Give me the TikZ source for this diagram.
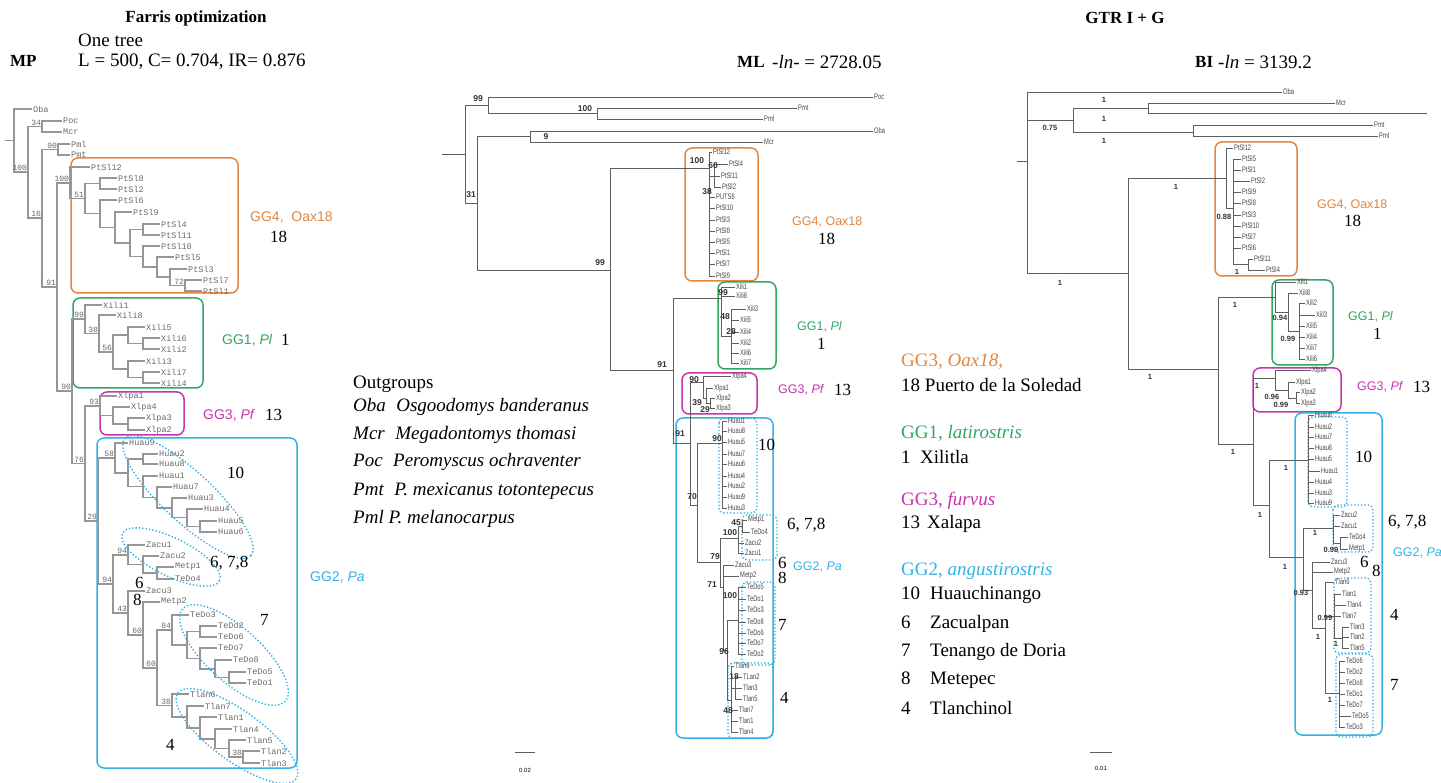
\documentclass[tikz,border=0pt]{standalone}
\usepackage{fontspec}
\setmainfont{Liberation Serif}
\setsansfont{Liberation Sans}
\setmonofont{Liberation Mono}
\newfontfamily\narrowsf[FakeStretch=0.72]{Liberation Sans}
\usepackage{xcolor}
\usepackage{tikz}
\definecolor{ggorange}{RGB}{226,134,64}
\definecolor{gggreen}{RGB}{48,168,100}
\definecolor{ggmagenta}{RGB}{200,52,172}
\definecolor{ggcyan}{RGB}{52,178,228}
\definecolor{mpgrey}{RGB}{150,150,150}
\definecolor{mptext}{RGB}{105,105,105}
\definecolor{treegrey}{RGB}{95,95,95}
\definecolor{treetext}{RGB}{70,70,70}

\begin{document}
\begin{tikzpicture}[
x=1pt,
y=-1pt,
mpline/.style={draw=mpgrey,line width=1.1pt},
treeline/.style={draw=treegrey,line width=0.9pt},
mpleaf/.style={anchor=west,inner sep=1pt,text=mptext,font=\ttfamily\fontsize{8.5}{8.5}\selectfont},
treeleaf/.style={anchor=west,inner sep=1pt,text=treetext,font=\narrowsf\fontsize{8}{8}\selectfont},
mpsup/.style={anchor=south east,inner sep=0.8pt,text=mptext,font=\ttfamily\fontsize{8}{8}\selectfont},
mlsup/.style={inner sep=0pt,text=black!80,font=\sffamily\bfseries\fontsize{8.5}{8.5}\selectfont},
bisup/.style={inner sep=0pt,text=black!80,font=\sffamily\bfseries\fontsize{7.5}{7.5}\selectfont},
cladebox/.style={rounded corners=7pt,line width=1.5pt},
popbox/.style={draw=ggcyan,dotted,line width=1.4pt,rounded corners=5pt},
ggtag/.style={anchor=west,inner sep=0pt,font=\sffamily\fontsize{14}{14}\selectfont},
ggtagsm/.style={anchor=west,inner sep=0pt,font=\sffamily\fontsize{12.5}{12.5}\selectfont},
numtag/.style={anchor=west,inner sep=0pt,font=\fontsize{17}{17}\selectfont},
hdr/.style={anchor=west,inner sep=0pt,font=\fontsize{19}{19}\selectfont},
hdrbold/.style={inner sep=0pt,font=\bfseries\fontsize{17}{17}\selectfont},
legline/.style={anchor=west,inner sep=0pt,font=\fontsize{19}{19}\selectfont},
scaletag/.style={inner sep=0pt,font=\sffamily\fontsize{6}{6}\selectfont}
]
\fill[white] (0,0) rectangle (1441,783);
\useasboundingbox (0,0) rectangle (1441,783);

\node[hdrbold] (farris) at (196,18) {Farris optimization};
\node[hdrbold,anchor=west] (mptitle) at (10,61) {MP};
\node[hdr] (onetree) at (78,40) {One tree};
\node[hdr] (mpstats) at (78,62) {L = 500, C= 0.704, IR= 0.876};
\node[hdrbold,anchor=west] (mltitle) at (737,62) {ML};
\node[hdr] (mlstats) at (772,62) {-\textit{ln}- = 2728.05};
\node[hdrbold] (gtr) at (1125,18) {GTR I + G};
\node[hdrbold,anchor=west] (bititle) at (1195,62) {BI};
\node[hdr] (bistats) at (1218,62) {-\textit{ln} = 3139.2};

\draw[cladebox,draw=ggorange] (71,158) rectangle (238,293);
\draw[cladebox,draw=gggreen] (73,298) rectangle (203,388);
\draw[cladebox,draw=ggmagenta] (100,392) rectangle (184,435);
\draw[cladebox,draw=ggcyan] (97,438) rectangle (297,768);

\node[mpleaf] (mpOba) at (32,109) {Oba};
\node[mpleaf] (mpPoc) at (62,121) {Poc};
\node[mpleaf] (mpMcr) at (62,132) {Mcr};
\node[mpleaf] (mpPml) at (70,144) {Pml};
\node[mpleaf] (mpPmt) at (70,155) {Pmt};
\node[mpleaf] (mpPtSl12) at (90,167) {PtSl12};
\node[mpleaf] (mpPtSl8) at (117,178) {PtSl8};
\node[mpleaf] (mpPtSl2) at (117,189) {PtSl2};
\node[mpleaf] (mpPtSl6) at (117,200) {PtSl6};
\node[mpleaf] (mpPtSl9) at (132,212) {PtSl9};
\node[mpleaf] (mpPtSl4) at (160,224) {PtSl4};
\node[mpleaf] (mpPtSl11) at (160,235) {PtSl11};
\node[mpleaf] (mpPtSl10) at (160,246) {PtSl10};
\node[mpleaf] (mpPtSl5) at (174,257) {PtSl5};
\node[mpleaf] (mpPtSl3) at (187,269) {PtSl3};
\node[mpleaf] (mpPtSl7) at (202,280) {PtSl7};
\node[mpleaf] (mpPtSl1) at (202,291) {PtSl1};
\node[mpleaf] (mpXili1) at (102,305) {Xili1};
\node[mpleaf] (mpXili8) at (116,315) {Xili8};
\node[mpleaf] (mpXili5) at (145,327) {Xili5};
\node[mpleaf] (mpXili6) at (160,338) {Xili6};
\node[mpleaf] (mpXili2) at (160,349) {Xili2};
\node[mpleaf] (mpXili3) at (145,361) {Xili3};
\node[mpleaf] (mpXili7) at (160,372) {Xili7};
\node[mpleaf] (mpXili4) at (160,383) {Xili4};
\node[mpleaf] (mpXlpa1) at (117,396) {Xlpa1};
\node[mpleaf] (mpXlpa4) at (130,407) {Xlpa4};
\node[mpleaf] (mpXlpa3) at (145,418) {Xlpa3};
\node[mpleaf] (mpXlpa2) at (145,430) {Xlpa2};
\node[mpleaf] (mpHuau9) at (128,443) {Huau9};
\node[mpleaf] (mpHuau2) at (158,454) {Huau2};
\node[mpleaf] (mpHuau8) at (158,464) {Huau8};
\node[mpleaf] (mpHuau1) at (158,476) {Huau1};
\node[mpleaf] (mpHuau7) at (172,487) {Huau7};
\node[mpleaf] (mpHuau3) at (187,498) {Huau3};
\node[mpleaf] (mpHuau4) at (203,509) {Huau4};
\node[mpleaf] (mpHuau5) at (217,521) {Huau5};
\node[mpleaf] (mpHuau6) at (217,532) {Huau6};
\node[mpleaf] (mpZacu1) at (145,545) {Zacu1};
\node[mpleaf] (mpZacu2) at (159,556) {Zacu2};
\node[mpleaf] (mpMetp1) at (174,567) {Metp1};
\node[mpleaf] (mpTeDo4) at (174,579) {TeDo4};
\node[mpleaf] (mpZacu3) at (145,591) {Zacu3};
\node[mpleaf] (mpMetp2) at (160,602) {Metp2};
\node[mpleaf] (mpTeDo3) at (189,615) {TeDo3};
\node[mpleaf] (mpTeDo2) at (217,626) {TeDo2};
\node[mpleaf] (mpTeDo6) at (217,637) {TeDo6};
\node[mpleaf] (mpTeDo7) at (217,648) {TeDo7};
\node[mpleaf] (mpTeDo8) at (232,660) {TeDo8};
\node[mpleaf] (mpTeDo5) at (246,672) {TeDo5};
\node[mpleaf] (mpTeDo1) at (246,683) {TeDo1};
\node[mpleaf] (mpTlan6) at (189,694) {Tlan6};
\node[mpleaf] (mpTlan7) at (204,706) {Tlan7};
\node[mpleaf] (mpTlan1) at (217,717) {Tlan1};
\node[mpleaf] (mpTlan4) at (232,729) {Tlan4};
\node[mpleaf] (mpTlan5) at (246,740) {Tlan5};
\node[mpleaf] (mpTlan2) at (260,751) {Tlan2};
\node[mpleaf] (mpTlan3) at (260,763) {Tlan3};

\coordinate (mpstub) at (5,140.5);
\coordinate (mproot) at (14,140.5);
\coordinate (mpA) at (28,172);
\coordinate (mpB) at (42,126.5);
\coordinate (mpC) at (42,218);
\coordinate (mpD) at (58,149.5);
\coordinate (mpE) at (57,287);
\coordinate (mpg4) at (70,183);
\coordinate (mpg4a) at (85,198.5);
\coordinate (mpg4a2) at (100,183.5);
\coordinate (mpg4b) at (100,213.5);
\coordinate (mpg4b2) at (115,227.5);
\coordinate (mpg4c) at (130,243);
\coordinate (mpg4c2) at (143,229.5);
\coordinate (mpg4d) at (143,256.5);
\coordinate (mpg4e) at (157,267);
\coordinate (mpg4f) at (170,277);
\coordinate (mpg4g) at (185,285.5);
\coordinate (mpF) at (72,391);
\coordinate (mpg1a) at (85,319);
\coordinate (mpg1b) at (99,333.5);
\coordinate (mpg1c) at (113,352);
\coordinate (mpg1d) at (128,335);
\coordinate (mpg1f) at (143,343.5);
\coordinate (mpg1e) at (128,369);
\coordinate (mpg1g) at (143,377.5);
\coordinate (mpG) at (85,463.5);
\coordinate (mpg3a) at (100,406);
\coordinate (mpg3b) at (113,415.5);
\coordinate (mpg3c) at (128,424);
\coordinate (mpH) at (98,521);
\coordinate (mph1) at (115,458);
\coordinate (mph2) at (128,473);
\coordinate (mph2a) at (143,459);
\coordinate (mph3) at (143,486.5);
\coordinate (mph4) at (157,497.5);
\coordinate (mph5) at (172,508);
\coordinate (mph6) at (187,517.5);
\coordinate (mph7) at (200,526.5);
\coordinate (mpI) at (113,584);
\coordinate (mpz1) at (128,555);
\coordinate (mpz2) at (143,564.5);
\coordinate (mpz3) at (157,573);
\coordinate (mpJ) at (128,613);
\coordinate (mpK) at (143,635);
\coordinate (mpL) at (157,668);
\coordinate (mpt0) at (172,630);
\coordinate (mpt1) at (187,645);
\coordinate (mpt2) at (200,631.5);
\coordinate (mpt3) at (200,658.5);
\coordinate (mpt4) at (215,669);
\coordinate (mpt5) at (229,677.5);
\coordinate (mpl0) at (172,705.5);
\coordinate (mpl1) at (187,717);
\coordinate (mpl2) at (200,728);
\coordinate (mpl3) at (215,739);
\coordinate (mpl4) at (229,748.5);
\coordinate (mpl5) at (243,757);

\draw[mpline] (mpstub) -- (mproot) (mproot) |- (mpOba.west) (mproot) |- (mpA);
\draw[mpline] (mpA) |- (mpB) (mpA) |- (mpC);
\draw[mpline] (mpB) |- (mpPoc.west) (mpB) |- (mpMcr.west);
\draw[mpline] (mpC) |- (mpD) (mpC) |- (mpE);
\draw[mpline] (mpD) |- (mpPml.west) (mpD) |- (mpPmt.west);
\draw[mpline] (mpE) |- (mpg4) (mpE) |- (mpF);
\draw[mpline] (mpg4) |- (mpPtSl12.west) (mpg4) |- (mpg4a);
\draw[mpline] (mpg4a) |- (mpg4a2) (mpg4a) |- (mpg4b);
\draw[mpline] (mpg4a2) |- (mpPtSl8.west) (mpg4a2) |- (mpPtSl2.west);
\draw[mpline] (mpg4b) |- (mpPtSl6.west) (mpg4b) |- (mpg4b2);
\draw[mpline] (mpg4b2) |- (mpPtSl9.west) (mpg4b2) |- (mpg4c);
\draw[mpline] (mpg4c) |- (mpg4c2) (mpg4c) |- (mpg4d);
\draw[mpline] (mpg4c2) |- (mpPtSl4.west) (mpg4c2) |- (mpPtSl11.west);
\draw[mpline] (mpg4d) |- (mpPtSl10.west) (mpg4d) |- (mpg4e);
\draw[mpline] (mpg4e) |- (mpPtSl5.west) (mpg4e) |- (mpg4f);
\draw[mpline] (mpg4f) |- (mpPtSl3.west) (mpg4f) |- (mpg4g);
\draw[mpline] (mpg4g) |- (mpPtSl7.west) (mpg4g) |- (mpPtSl1.west);
\draw[mpline] (mpF) |- (mpg1a) (mpF) |- (mpG);
\draw[mpline] (mpg1a) |- (mpXili1.west) (mpg1a) |- (mpg1b);
\draw[mpline] (mpg1b) |- (mpXili8.west) (mpg1b) |- (mpg1c);
\draw[mpline] (mpg1c) |- (mpg1d) (mpg1c) |- (mpg1e);
\draw[mpline] (mpg1d) |- (mpXili5.west) (mpg1d) |- (mpg1f);
\draw[mpline] (mpg1f) |- (mpXili6.west) (mpg1f) |- (mpXili2.west);
\draw[mpline] (mpg1e) |- (mpXili3.west) (mpg1e) |- (mpg1g);
\draw[mpline] (mpg1g) |- (mpXili7.west) (mpg1g) |- (mpXili4.west);
\draw[mpline] (mpG) |- (mpg3a) (mpG) |- (mpH);
\draw[mpline] (mpg3a) |- (mpXlpa1.west) (mpg3a) |- (mpg3b);
\draw[mpline] (mpg3b) |- (mpXlpa4.west) (mpg3b) |- (mpg3c);
\draw[mpline] (mpg3c) |- (mpXlpa3.west) (mpg3c) |- (mpXlpa2.west);
\draw[mpline] (mpH) |- (mph1) (mpH) |- (mpI);
\draw[mpline] (mph1) |- (mpHuau9.west) (mph1) |- (mph2);
\draw[mpline] (mph2) |- (mph2a) (mph2) |- (mph3);
\draw[mpline] (mph2a) |- (mpHuau2.west) (mph2a) |- (mpHuau8.west);
\draw[mpline] (mph3) |- (mpHuau1.west) (mph3) |- (mph4);
\draw[mpline] (mph4) |- (mpHuau7.west) (mph4) |- (mph5);
\draw[mpline] (mph5) |- (mpHuau3.west) (mph5) |- (mph6);
\draw[mpline] (mph6) |- (mpHuau4.west) (mph6) |- (mph7);
\draw[mpline] (mph7) |- (mpHuau5.west) (mph7) |- (mpHuau6.west);
\draw[mpline] (mpI) |- (mpz1) (mpI) |- (mpJ);
\draw[mpline] (mpz1) |- (mpZacu1.west) (mpz1) |- (mpz2);
\draw[mpline] (mpz2) |- (mpZacu2.west) (mpz2) |- (mpz3);
\draw[mpline] (mpz3) |- (mpMetp1.west) (mpz3) |- (mpTeDo4.west);
\draw[mpline] (mpJ) |- (mpZacu3.west) (mpJ) |- (mpK);
\draw[mpline] (mpK) |- (mpMetp2.west) (mpK) |- (mpL);
\draw[mpline] (mpL) |- (mpt0) (mpL) |- (mpl0);
\draw[mpline] (mpt0) |- (mpTeDo3.west) (mpt0) |- (mpt1);
\draw[mpline] (mpt1) |- (mpt2) (mpt1) |- (mpt3);
\draw[mpline] (mpt2) |- (mpTeDo2.west) (mpt2) |- (mpTeDo6.west);
\draw[mpline] (mpt3) |- (mpTeDo7.west) (mpt3) |- (mpt4);
\draw[mpline] (mpt4) |- (mpTeDo8.west) (mpt4) |- (mpt5);
\draw[mpline] (mpt5) |- (mpTeDo5.west) (mpt5) |- (mpTeDo1.west);
\draw[mpline] (mpl0) |- (mpTlan6.west) (mpl0) |- (mpl1);
\draw[mpline] (mpl1) |- (mpTlan7.west) (mpl1) |- (mpl2);
\draw[mpline] (mpl2) |- (mpTlan1.west) (mpl2) |- (mpl3);
\draw[mpline] (mpl3) |- (mpTlan4.west) (mpl3) |- (mpl4);
\draw[mpline] (mpl4) |- (mpTlan5.west) (mpl4) |- (mpl5);
\draw[mpline] (mpl5) |- (mpTlan2.west) (mpl5) |- (mpTlan3.west);

\node[mpsup] (mps1) at (mpA) {100};
\node[mpsup] (mps2) at (mpB) {34};
\node[mpsup] (mps3) at (mpC) {16};
\node[mpsup] (mps4) at (mpD) {90};
\node[mpsup] (mps5) at (mpE) {91};
\node[mpsup] (mps6) at (mpg4) {100};
\node[mpsup] (mps7) at (mpg4a) {51};
\node[mpsup] (mps8) at (mpg4g) {72};
\node[mpsup] (mps9) at (mpF) {90};
\node[mpsup] (mps10) at (mpg1a) {99};
\node[mpsup] (mps11) at (mpg1b) {38};
\node[mpsup] (mps12) at (mpg1c) {56};
\node[mpsup] (mps13) at (mpG) {76};
\node[mpsup] (mps14) at (mpg3a) {93};
\node[mpsup] (mps15) at (mpH) {29};
\node[mpsup] (mps16) at (mph1) {58};
\node[mpsup] (mps17) at (mpI) {94};
\node[mpsup] (mps18) at (mpz1) {94};
\node[mpsup] (mps19) at (mpJ) {43};
\node[mpsup] (mps20) at (mpK) {60};
\node[mpsup] (mps21) at (mpL) {60};
\node[mpsup] (mps22) at (mpt0) {84};
\node[mpsup] (mps23) at (mpl0) {38};
\node[mpsup] (mps24) at (mpl5) {38};

\draw[ggcyan,dotted,line width=1.4pt,rotate around={-43:(188,497)}] (188,497) ellipse [x radius=86,y radius=25];
\draw[ggcyan,dotted,line width=1.4pt,rotate around={-26:(171,557)}] (171,557) ellipse [x radius=54,y radius=19];
\draw[ggcyan,dotted,line width=1.4pt,rotate around={-42:(234,655)}] (234,655) ellipse [x radius=69,y radius=27];
\draw[ggcyan,dotted,line width=1.4pt,rotate around={-36:(237,736)}] (237,736) ellipse [x radius=73,y radius=25];

\node[ggtag,text=ggorange] (mpgg4) at (250,218) {GG4,\ \ Oax18};
\node[numtag] (mpn18) at (270,237) {18};
\node[ggtag,text=gggreen] (mpgg1) at (222,340) {GG1, \textit{Pl}};
\node[numtag] (mpn1) at (281,340) {1};
\node[ggtag,text=ggmagenta] (mpgg3) at (203,415) {GG3, \textit{Pf}};
\node[numtag] (mpn13) at (265,415) {13};
\node[ggtag,text=ggcyan] (mpgg2) at (310,578) {GG2, \textit{Pa}};
\node[numtag] (mpn10) at (227,473) {10};
\node[numtag] (mpn678) at (210,563) {6, 7,8};
\node[numtag] (mpn6) at (135,583) {6};
\node[numtag] (mpn8) at (133,600) {8};
\node[numtag] (mpn7) at (260,620) {7};
\node[numtag] (mpn4) at (166,745) {4};

\node[legline] (outg) at (353,384) {Outgroups};
\node[legline] (outoba) at (353,407) {\textit{Oba\hspace{0.55em}Osgoodomys banderanus}};
\node[legline] (outmcr) at (353,435) {\textit{Mcr\hspace{0.55em}Megadontomys thomasi}};
\node[legline] (outpoc) at (353,462) {\textit{Poc\hspace{0.55em}Peromyscus ochraventer}};
\node[legline] (outpmt) at (353,491) {\textit{Pmt\hspace{0.55em}P. mexicanus totontepecus}};
\node[legline] (outpml) at (353,519) {\textit{Pml P. melanocarpus}};

\draw[cladebox,draw=ggorange] (685,148) rectangle (758,281);
\draw[cladebox,draw=gggreen] (718,282) rectangle (776,369);
\draw[cladebox,draw=ggmagenta] (682,373) rectangle (757,414);
\draw[cladebox,draw=ggcyan] (676,418) rectangle (773,738);
\draw[popbox] (719,418) rectangle (757,513);
\draw[popbox] (742,515) rectangle (777,560);
\draw[popbox] (742,582) rectangle (775,665);
\draw[popbox] (728,663) rectangle (773,738);

\node[treeleaf] (mlPoc) at (873,97) {Poc};
\node[treeleaf] (mlPmt) at (797,108) {Pmt};
\node[treeleaf] (mlPml) at (763,119) {Pml};
\node[treeleaf] (mlOba) at (873,131) {Oba};
\node[treeleaf] (mlMcr) at (763,142) {Mcr};
\node[treeleaf] (mlPtSl12) at (712,152) {PtSl12};
\node[treeleaf] (mlPtSl4) at (728,164) {PtSl4};
\node[treeleaf] (mlPtSl11) at (720,176) {PtSl11};
\node[treeleaf] (mlPtSl2) at (721,187) {PtSl2};
\node[treeleaf] (mlPUTS6) at (715,197) {PUTS6};
\node[treeleaf] (mlPtSl10) at (715,208) {PtSl10};
\node[treeleaf] (mlPtSl3) at (715,220) {PtSl3};
\node[treeleaf] (mlPtSl8) at (715,231) {PtSl8};
\node[treeleaf] (mlPtSl5) at (715,242) {PtSl5};
\node[treeleaf] (mlPtSl1) at (715,253) {PtSl1};
\node[treeleaf] (mlPtSl7) at (715,264) {PtSl7};
\node[treeleaf] (mlPtSl9) at (715,276) {PtSl9};
\node[treeleaf] (mlXili1) at (735,287) {Xili1};
\node[treeleaf] (mlXili8) at (735,296) {Xili8};
\node[treeleaf] (mlXili3) at (746,309) {Xili3};
\node[treeleaf] (mlXili5) at (739,320) {Xili5};
\node[treeleaf] (mlXili4) at (739,332) {Xili4};
\node[treeleaf] (mlXili2) at (739,343) {Xili2};
\node[treeleaf] (mlXili6) at (739,353) {Xili6};
\node[treeleaf] (mlXili7) at (739,363) {Xili7};
\node[treeleaf] (mlXlpa4) at (731,376) {Xlpa4};
\node[treeleaf] (mlXlpa1) at (713,388) {Xlpa1};
\node[treeleaf] (mlXlpa2) at (715,398) {Xlpa2};
\node[treeleaf] (mlXlpa3) at (715,408) {Xlpa3};
\node[treeleaf] (mlHuau1) at (727,421) {Huau1};
\node[treeleaf] (mlHuau8) at (727,431) {Huau8};
\node[treeleaf] (mlHuau5) at (727,442) {Huau5};
\node[treeleaf] (mlHuau7) at (727,454) {Huau7};
\node[treeleaf] (mlHuau6) at (727,464) {Huau6};
\node[treeleaf] (mlHuau4) at (727,476) {Huau4};
\node[treeleaf] (mlHuau2) at (727,486) {Huau2};
\node[treeleaf] (mlHuau9) at (727,497) {Huau9};
\node[treeleaf] (mlHuau3) at (727,508) {Huau3};
\node[treeleaf] (mlMetp1) at (747,520) {Metp1};
\node[treeleaf] (mlTeDo4) at (750,532) {TeDo4};
\node[treeleaf] (mlZacu2) at (744,543) {Zacu2};
\node[treeleaf] (mlZacu1) at (744,553) {Zacu1};
\node[treeleaf] (mlZacu3) at (734,565) {Zacu3};
\node[treeleaf] (mlMetp2) at (739,576) {Metp2};
\node[treeleaf] (mlTeDo5) at (746,587) {TeDo5};
\node[treeleaf] (mlTeDo1) at (746,599) {TeDo1};
\node[treeleaf] (mlTeDo3) at (746,610) {TeDo3};
\node[treeleaf] (mlTeDo8) at (746,622) {TeDo8};
\node[treeleaf] (mlTeDo6) at (746,633) {TeDo6};
\node[treeleaf] (mlTeDo7) at (746,643) {TeDo7};
\node[treeleaf] (mlTeDo2) at (746,654) {TeDo2};
\node[treeleaf] (mlTlan6) at (734,666) {Tlan6};
\node[treeleaf] (mlTLan2) at (742,677) {TLan2};
\node[treeleaf] (mlTlan3) at (742,688) {Tlan3};
\node[treeleaf] (mlTlan5) at (742,699) {Tlan5};
\node[treeleaf] (mlTlan7) at (738,710) {Tlan7};
\node[treeleaf] (mlTlan1) at (738,721) {Tlan1};
\node[treeleaf] (mlTlan4) at (738,732) {Tlan4};

\coordinate (mlstub) at (442,154);
\coordinate (mlroot) at (465,154);
\coordinate (mlA) at (488,105);
\coordinate (mlPP) at (597,113.5);
\coordinate (mlB) at (477,203.5);
\coordinate (mlC) at (530,136.5);
\coordinate (mlD) at (610,270);
\coordinate (mlG4) at (709,168);
\coordinate (mls60) at (714,176);
\coordinate (mlE) at (673,370.5);
\coordinate (mlG1) at (721,298);
\coordinate (mlg2) at (731,336);
\coordinate (mlF) at (690,443);
\coordinate (mlG3) at (703,382);
\coordinate (mlg3b) at (706,398);
\coordinate (mlg3c) at (710,403);
\coordinate (mlGx) at (697,505);
\coordinate (mlHu) at (722,443);
\coordinate (mlH) at (720,562);
\coordinate (ml678) at (738,538);
\coordinate (ml45) at (742,526);
\coordinate (mlI) at (723,587);
\coordinate (mlJ) at (727,650);
\coordinate (mlTe) at (738,620);
\coordinate (mlK) at (731,700);
\coordinate (ml18) at (735,688);

\draw[treeline] (mlstub) -- (mlroot) (mlroot) |- (mlA) (mlroot) |- (mlB);
\draw[treeline] (mlA) |- (mlPoc.west) (mlA) |- (mlPP);
\draw[treeline] (mlPP) |- (mlPmt.west) (mlPP) |- (mlPml.west);
\draw[treeline] (mlB) |- (mlC) (mlB) |- (mlD);
\draw[treeline] (mlC) |- (mlOba.west) (mlC) |- (mlMcr.west);
\draw[treeline] (mlD) |- (mlG4) (mlD) |- (mlE);
\draw[treeline] (mlG4) |- (mlPtSl12.west) (mlG4) |- (mls60) (mlG4) |- (mlPUTS6.west) (mlG4) |- (mlPtSl10.west) (mlG4) |- (mlPtSl3.west) (mlG4) |- (mlPtSl8.west) (mlG4) |- (mlPtSl5.west) (mlG4) |- (mlPtSl1.west) (mlG4) |- (mlPtSl7.west) (mlG4) |- (mlPtSl9.west);
\draw[treeline] (mls60) |- (mlPtSl4.west) (mls60) |- (mlPtSl11.west) (mls60) |- (mlPtSl2.west);
\draw[treeline] (mlE) |- (mlG1) (mlE) |- (mlF);
\draw[treeline] (mlG1) |- (mlXili1.west) (mlG1) |- (mlXili8.west) (mlG1) |- (mlg2);
\draw[treeline] (mlg2) |- (mlXili3.west) (mlg2) |- (mlXili5.west) (mlg2) |- (mlXili4.west) (mlg2) |- (mlXili2.west) (mlg2) |- (mlXili6.west) (mlg2) |- (mlXili7.west);
\draw[treeline] (mlF) |- (mlG3) (mlF) |- (mlGx);
\draw[treeline] (mlG3) |- (mlXlpa4.west) (mlG3) |- (mlg3b);
\draw[treeline] (mlg3b) |- (mlXlpa1.west) (mlg3b) |- (mlg3c);
\draw[treeline] (mlg3c) |- (mlXlpa2.west) (mlg3c) |- (mlXlpa3.west);
\draw[treeline] (mlGx) |- (mlHu) (mlGx) |- (mlH);
\draw[treeline] (mlHu) |- (mlHuau1.west) (mlHu) |- (mlHuau8.west) (mlHu) |- (mlHuau5.west) (mlHu) |- (mlHuau7.west) (mlHu) |- (mlHuau6.west) (mlHu) |- (mlHuau4.west) (mlHu) |- (mlHuau2.west) (mlHu) |- (mlHuau9.west) (mlHu) |- (mlHuau3.west);
\draw[treeline] (mlH) |- (ml678) (mlH) |- (mlI);
\draw[treeline] (ml678) |- (ml45) (ml678) |- (mlZacu2.west) (ml678) |- (mlZacu1.west);
\draw[treeline] (ml45) |- (mlMetp1.west) (ml45) |- (mlTeDo4.west);
\draw[treeline] (mlI) |- (mlZacu3.west) (mlI) |- (mlMetp2.west) (mlI) |- (mlJ);
\draw[treeline] (mlJ) |- (mlTe) (mlJ) |- (mlK);
\draw[treeline] (mlTe) |- (mlTeDo5.west) (mlTe) |- (mlTeDo1.west) (mlTe) |- (mlTeDo3.west) (mlTe) |- (mlTeDo8.west) (mlTe) |- (mlTeDo6.west) (mlTe) |- (mlTeDo7.west) (mlTe) |- (mlTeDo2.west);
\draw[treeline] (mlK) |- (mlTlan6.west) (mlK) |- (ml18) (mlK) |- (mlTlan7.west) (mlK) |- (mlTlan1.west) (mlK) |- (mlTlan4.west);
\draw[treeline] (ml18) |- (mlTLan2.west) (ml18) |- (mlTlan3.west) (ml18) |- (mlTlan5.west);

\node[mlsup] (mls1) at (478,99) {99};
\node[mlsup] (mls2) at (585,109) {100};
\node[mlsup] (mls3) at (471,195) {31};
\node[mlsup] (mls4) at (546,137) {9};
\node[mlsup] (mls5) at (600,263) {99};
\node[mlsup] (mls6) at (697,161) {100};
\node[mlsup] (mls7) at (713,166) {60};
\node[mlsup] (mls8) at (707,192) {38};
\node[mlsup] (mls9) at (723,293) {99};
\node[mlsup] (mls10) at (725,317) {48};
\node[mlsup] (mls11) at (731,332) {28};
\node[mlsup] (mls12) at (662,365) {91};
\node[mlsup] (mls13) at (680,434) {91};
\node[mlsup] (mls14) at (694,380) {90};
\node[mlsup] (mls15) at (697,403) {39};
\node[mlsup] (mls16) at (705,410) {29};
\node[mlsup] (mls17) at (692,497) {70};
\node[mlsup] (mls18) at (717,439) {90};
\node[mlsup] (mls19) at (715,557) {79};
\node[mlsup] (mls20) at (730,533) {100};
\node[mlsup] (mls21) at (736,523) {45};
\node[mlsup] (mls22) at (712,585) {71};
\node[mlsup] (mls23) at (730,596) {100};
\node[mlsup] (mls24) at (724,652) {96};
\node[mlsup] (mls25) at (734,677) {18};
\node[mlsup] (mls26) at (728,711) {48};

\node[ggtagsm,text=ggorange] (mlgg4) at (792,222) {GG4, Oax18};
\node[numtag] (mln18) at (818,239) {18};
\node[ggtagsm,text=gggreen] (mlgg1) at (797,327) {GG1, \textit{Pl}};
\node[numtag] (mln1) at (817,344) {1};
\node[ggtagsm,text=ggmagenta] (mlgg3) at (778,390) {GG3, \textit{Pf}};
\node[numtag] (mln13) at (834,390) {13};
\node[numtag] (mln10) at (758,445) {10};
\node[numtag] (mln678) at (787,525) {6, 7,8};
\node[numtag] (mln6) at (778,563) {6};
\node[ggtagsm,text=ggcyan] (mlgg2) at (793,567) {GG2, \textit{Pa}};
\node[numtag] (mln8) at (778,578) {8};
\node[numtag] (mln7) at (778,625) {7};
\node[numtag] (mln4) at (780,698) {4};

\coordinate (mlbarl) at (515,752);
\coordinate (mlbarr) at (535,752);
\draw[treeline] (mlbarl) -- (mlbarr);
\node[scaletag] (mlbartag) at (525,770) {0.02};

\node[legline,text=ggorange] (leg1) at (901,362) {GG3, \textit{Oax18,}};
\node[legline] (leg2) at (901,385) {18 Puerto de la Soledad};
\node[legline,text=gggreen] (leg3) at (901,433) {GG1, \textit{latirostris}};
\node[legline] (leg4) at (901,457) {\makebox[19pt][l]{1}Xilitla};
\node[legline,text=ggmagenta] (leg5) at (901,501) {GG3, \textit{furvus}};
\node[legline] (leg6) at (901,524) {\makebox[26pt][l]{13}Xalapa};
\node[legline,text=ggcyan] (leg7) at (901,571) {GG2, \textit{angustirostris}};
\node[legline] (leg8) at (901,595) {\makebox[29pt][l]{10}Huauchinango};
\node[legline] (leg9) at (901,624) {\makebox[29pt][l]{6}Zacualpan};
\node[legline] (leg10) at (901,652) {\makebox[29pt][l]{7}Tenango de Doria};
\node[legline] (leg11) at (901,680) {\makebox[29pt][l]{8}Metepec};
\node[legline] (leg12) at (901,708) {\makebox[29pt][l]{4}Tlanchinol};

\draw[cladebox,draw=ggorange] (1215,142) rectangle (1297,276);
\draw[cladebox,draw=gggreen] (1272,280) rectangle (1333,365);
\draw[cladebox,draw=ggmagenta] (1253,368) rectangle (1341,412);
\draw[cladebox,draw=ggcyan] (1295,413) rectangle (1382,735);
\draw[popbox] (1308,417) rectangle (1347,507);
\draw[popbox] (1333,505) rectangle (1373,552);
\draw[popbox] (1334,578) rectangle (1371,653);
\draw[popbox] (1336,654) rectangle (1373,737);

\node[treeleaf] (biOba) at (1282,92) {Oba};
\node[treeleaf] (biMcr) at (1335,103) {Mcr};
\coordinate (biPoc) at (1427,113);
\node[treeleaf] (biPmt) at (1373,125) {Pmt};
\node[treeleaf] (biPml) at (1378,136) {Pml};
\node[treeleaf] (biPtSl12) at (1233,148) {PtSl12};
\node[treeleaf] (biPtSl5) at (1241,159) {PtSl5};
\node[treeleaf] (biPtSl1) at (1241,170) {PtSl1};
\node[treeleaf] (biPtSl2) at (1250,181) {PtSl2};
\node[treeleaf] (biPtSl9) at (1241,192) {PtSl9};
\node[treeleaf] (biPtSl8) at (1241,203) {PtSl8};
\node[treeleaf] (biPtSl3) at (1241,215) {PtSl3};
\node[treeleaf] (biPtSl10) at (1241,226) {PtSl10};
\node[treeleaf] (biPtSl7) at (1241,237) {PtSl7};
\node[treeleaf] (biPtSl6) at (1241,248) {PtSl6};
\node[treeleaf] (biPtSl11) at (1253,259) {PtSl11};
\node[treeleaf] (biPtSl4) at (1265,270) {PtSl4};
\node[treeleaf] (biXili1) at (1296,282) {Xili1};
\node[treeleaf] (biXili8) at (1298,293) {Xili8};
\node[treeleaf] (biXili2) at (1305,303) {Xili2};
\node[treeleaf] (biXili3) at (1315,315) {Xili3};
\node[treeleaf] (biXili5) at (1305,326) {Xili5};
\node[treeleaf] (biXili4) at (1305,337) {Xili4};
\node[treeleaf] (biXili7) at (1305,348) {Xili7};
\node[treeleaf] (biXili6) at (1305,359) {Xili6};
\node[treeleaf] (biXlpa4) at (1311,370) {Xlpa4};
\node[treeleaf] (biXlpa1) at (1295,382) {Xlpa1};
\node[treeleaf] (biXlpa2) at (1300,392) {Xlpa2};
\node[treeleaf] (biXlpa3) at (1300,403) {Xlpa3};
\node[treeleaf] (biHuau8) at (1314,415) {Huau8};
\node[treeleaf] (biHuau2) at (1314,427) {Huau2};
\node[treeleaf] (biHuau7) at (1314,437) {Huau7};
\node[treeleaf] (biHuau6) at (1314,448) {Huau6};
\node[treeleaf] (biHuau5) at (1314,459) {Huau5};
\node[treeleaf] (biHuau1) at (1320,471) {Huau1};
\node[treeleaf] (biHuau4) at (1314,482) {Huau4};
\node[treeleaf] (biHuau3) at (1314,493) {Huau3};
\node[treeleaf] (biHuau9) at (1314,503) {Huau9};
\node[treeleaf] (biZacu2) at (1340,515) {Zacu2};
\node[treeleaf] (biZacu1) at (1340,526) {Zacu1};
\node[treeleaf] (biTeDo4) at (1348,537) {TeDo4};
\node[treeleaf] (biMetp1) at (1348,549) {Metp1};
\node[treeleaf] (biZacu3) at (1330,562) {Zacu3};
\node[treeleaf] (biMetp2) at (1333,572) {Metp2};
\node[treeleaf] (biTlan6) at (1334,582) {Tlan6};
\node[treeleaf] (biTlan1) at (1341,594) {Tlan1};
\node[treeleaf] (biTlan4) at (1346,605) {Tlan4};
\node[treeleaf] (biTlan7) at (1341,616) {Tlan7};
\node[treeleaf] (biTlan3) at (1349,627) {Tlan3};
\node[treeleaf] (biTlan2) at (1349,637) {Tlan2};
\node[treeleaf] (biTlan5) at (1349,648) {Tlan5};
\node[treeleaf] (biTeDo6) at (1345,661) {TeDo6};
\node[treeleaf] (biTeDo2) at (1345,672) {TeDo2};
\node[treeleaf] (biTeDo8) at (1345,683) {TeDo8};
\node[treeleaf] (biTeDo1) at (1345,694) {TeDo1};
\node[treeleaf] (biTeDo7) at (1345,705) {TeDo7};
\node[treeleaf] (biTeDo5) at (1351,716) {TeDo5};
\node[treeleaf] (biTeDo3) at (1345,727) {TeDo3};

\coordinate (bistub) at (1017,161);
\coordinate (biroot) at (1027,161);
\coordinate (biOG) at (1073,120);
\coordinate (biMP) at (1148,108);
\coordinate (biPP) at (1193,132);
\coordinate (biIn) at (1128,273);
\coordinate (biG4) at (1226,178);
\coordinate (big4b) at (1233,208);
\coordinate (big4c) at (1248,264);
\coordinate (biQ) at (1218,369);
\coordinate (biG1) at (1275,297);
\coordinate (big1b) at (1288,312);
\coordinate (big1c) at (1299,331);
\coordinate (biR) at (1253,444);
\coordinate (biG3) at (1275,378);
\coordinate (big3b) at (1288,390);
\coordinate (big3c) at (1296,398);
\coordinate (biS) at (1269,505);
\coordinate (biHu) at (1308,460);
\coordinate (biT) at (1303,557);
\coordinate (biU) at (1333,528);
\coordinate (biu2) at (1340,543);
\coordinate (biV) at (1312,590);
\coordinate (biW) at (1325,628);
\coordinate (biTl) at (1334,616);
\coordinate (biTl2) at (1342,638);
\coordinate (biTe) at (1339,693);

\draw[treeline] (bistub) -- (biroot) (biroot) |- (biOba.west) (biroot) |- (biOG) (biroot) |- (biIn);
\draw[treeline] (biOG) |- (biMP) (biOG) |- (biPP);
\draw[treeline] (biMP) |- (biMcr.west) (biMP) |- (biPoc);
\draw[treeline] (biPP) |- (biPmt.west) (biPP) |- (biPml.west);
\draw[treeline] (biIn) |- (biG4) (biIn) |- (biQ);
\draw[treeline] (biG4) |- (biPtSl12.west) (biG4) |- (big4b);
\draw[treeline] (big4b) |- (biPtSl5.west) (big4b) |- (biPtSl1.west) (big4b) |- (biPtSl2.west) (big4b) |- (biPtSl9.west) (big4b) |- (biPtSl8.west) (big4b) |- (biPtSl3.west) (big4b) |- (biPtSl10.west) (big4b) |- (biPtSl7.west) (big4b) |- (biPtSl6.west) (big4b) |- (big4c);
\draw[treeline] (big4c) |- (biPtSl11.west) (big4c) |- (biPtSl4.west);
\draw[treeline] (biQ) |- (biG1) (biQ) |- (biR);
\draw[treeline] (biG1) |- (biXili1.west) (biG1) |- (big1b);
\draw[treeline] (big1b) |- (biXili8.west) (big1b) |- (big1c);
\draw[treeline] (big1c) |- (biXili2.west) (big1c) |- (biXili3.west) (big1c) |- (biXili5.west) (big1c) |- (biXili4.west) (big1c) |- (biXili7.west) (big1c) |- (biXili6.west);
\draw[treeline] (biR) |- (biG3) (biR) |- (biS);
\draw[treeline] (biG3) |- (biXlpa4.west) (biG3) |- (big3b);
\draw[treeline] (big3b) |- (biXlpa1.west) (big3b) |- (big3c);
\draw[treeline] (big3c) |- (biXlpa2.west) (big3c) |- (biXlpa3.west);
\draw[treeline] (biS) |- (biHu) (biS) |- (biT);
\draw[treeline] (biHu) |- (biHuau8.west) (biHu) |- (biHuau2.west) (biHu) |- (biHuau7.west) (biHu) |- (biHuau6.west) (biHu) |- (biHuau5.west) (biHu) |- (biHuau1.west) (biHu) |- (biHuau4.west) (biHu) |- (biHuau3.west) (biHu) |- (biHuau9.west);
\draw[treeline] (biT) |- (biU) (biT) |- (biV);
\draw[treeline] (biU) |- (biZacu2.west) (biU) |- (biZacu1.west) (biU) |- (biu2);
\draw[treeline] (biu2) |- (biTeDo4.west) (biu2) |- (biMetp1.west);
\draw[treeline] (biV) |- (biZacu3.west) (biV) |- (biMetp2.west) (biV) |- (biW);
\draw[treeline] (biW) |- (biTlan6.west) (biW) |- (biTl) (biW) |- (biTe);
\draw[treeline] (biTl) |- (biTlan1.west) (biTl) |- (biTlan4.west) (biTl) |- (biTlan7.west) (biTl) |- (biTl2);
\draw[treeline] (biTl2) |- (biTlan3.west) (biTl2) |- (biTlan2.west) (biTl2) |- (biTlan5.west);
\draw[treeline] (biTe) |- (biTeDo6.west) (biTe) |- (biTeDo2.west) (biTe) |- (biTeDo8.west) (biTe) |- (biTeDo1.west) (biTe) |- (biTeDo7.west) (biTe) |- (biTeDo5.west) (biTe) |- (biTeDo3.west);

\node[bisup] (bis1) at (1050,128) {0.75};
\node[bisup] (bis2) at (1104,100) {1};
\node[bisup] (bis3) at (1104,119) {1};
\node[bisup] (bis4) at (1104,141) {1};
\node[bisup] (bis5) at (1060,283) {1};
\node[bisup] (bis6) at (1176,187) {1};
\node[bisup] (bis7) at (1150,377) {1};
\node[bisup] (bis8) at (1224,217) {0.88};
\node[bisup] (bis9) at (1237,272) {1};
\node[bisup] (bis10) at (1235,305) {1};
\node[bisup] (bis11) at (1233,452) {1};
\node[bisup] (bis12) at (1280,318) {0.94};
\node[bisup] (bis13) at (1288,339) {0.99};
\node[bisup] (bis14) at (1257,386) {1};
\node[bisup] (bis15) at (1272,397) {0.96};
\node[bisup] (bis16) at (1281,405) {0.99};
\node[bisup] (bis17) at (1260,515) {1};
\node[bisup] (bis18) at (1286,468) {1};
\node[bisup] (bis19) at (1285,567) {1};
\node[bisup] (bis20) at (1315,533) {1};
\node[bisup] (bis21) at (1331,550) {0.99};
\node[bisup] (bis22) at (1301,593) {0.93};
\node[bisup] (bis23) at (1318,637) {1};
\node[bisup] (bis24) at (1325,618) {0.99};
\node[bisup] (bis25) at (1336,644) {1};
\node[bisup] (bis26) at (1330,700) {1};

\node[ggtagsm,text=ggorange] (bigg4) at (1317,205) {GG4, Oax18};
\node[numtag] (bin18) at (1344,221) {18};
\node[ggtagsm,text=gggreen] (bigg1) at (1348,317) {GG1, \textit{Pl}};
\node[numtag] (bin1) at (1373,334) {1};
\node[ggtagsm,text=ggmagenta] (bigg3) at (1357,387) {GG3, \textit{Pf}};
\node[numtag] (bin13) at (1413,387) {13};
\node[numtag] (bin10) at (1355,457) {10};
\node[numtag] (bin678) at (1388,522) {6, 7,8};
\node[ggtagsm,text=ggcyan] (bigg2) at (1393,553) {GG2, \textit{Pa}};
\node[numtag] (bin6) at (1360,562) {6};
\node[numtag] (bin8) at (1372,571) {8};
\node[numtag] (bin4) at (1390,615) {4};
\node[numtag] (bin7) at (1390,685) {7};

\coordinate (bibarl) at (1090,752);
\coordinate (bibarr) at (1112,752);
\draw[treeline] (bibarl) -- (bibarr);
\node[scaletag] (bibartag) at (1101,768) {0.01};
\end{tikzpicture}
\end{document}
